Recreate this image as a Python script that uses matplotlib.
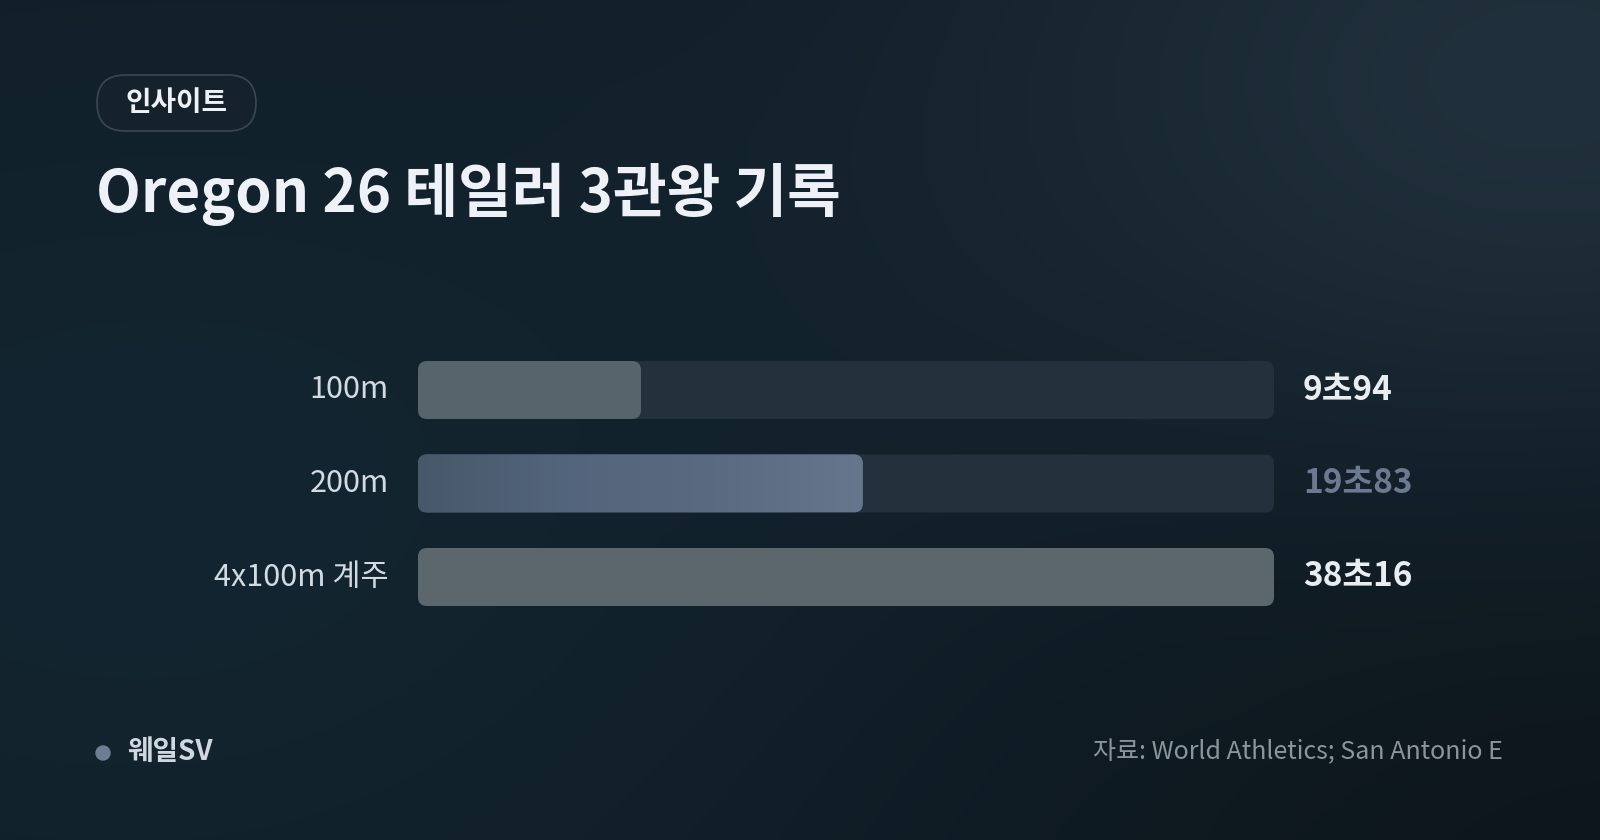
import numpy as np
import matplotlib
matplotlib.use('Agg')
import matplotlib.pyplot as plt
from matplotlib.patches import FancyBboxPatch, Circle
from matplotlib.colors import LinearSegmentedColormap

# --- 폰트 설정 ---
plt.rcParams['font.family'] = ['Noto Sans CJK KR', 'DejaVu Sans']

# --- 데이터 ---
events = ['100m', '200m', '4x100m 계주']
times = [9.94, 19.83, 38.16]
time_labels = ['9초94', '19초83', '38초16']
highlight = '200m'

badge_text = '인사이트'
title_text = 'Oregon 26 테일러 3관왕 기록'
brand_text = '웨일SV'
source_text = '자료: World Athletics; San Antonio E'

W, H = 1600, 840
DPI = 100

fig = plt.figure(figsize=(W / DPI, H / DPI), dpi=DPI)

# --- 배경 (픽셀 좌표계 axes) ---
bg = fig.add_axes([0, 0, 1, 1])
bg.set_xlim(0, W)
bg.set_ylim(H, 0)
bg.axis('off')

yy, xx = np.mgrid[0:H, 0:W]
xn = xx / W
yn = yy / H
base = np.array([0x10, 0x1d, 0x26]) / 255.0
img = np.ones((H, W, 3)) * base
# 왼쪽 중앙은 살짝 청록빛
teal = np.exp(-(((xn - 0.1) / 0.5) ** 2 + ((yn - 0.6) / 0.6) ** 2))
img += teal[..., None] * (np.array([0x03, 0x08, 0x0a]) / 255.0)
# 오른쪽 위 빛 번짐
glow = np.exp(-(((xn - 0.97) / 0.35) ** 2 + ((yn - 0.1) / 0.45) ** 2))
img += glow[..., None] * (np.array([0x10, 0x13, 0x16]) / 255.0)
# 오른쪽 아래는 어둡게
dark = np.exp(-(((xn - 1.0) / 0.45) ** 2 + ((yn - 1.0) / 0.5) ** 2))
img -= dark[..., None] * (np.array([0x03, 0x07, 0x0a]) / 255.0)
img = np.clip(img, 0, 1)
bg.imshow(img, extent=(0, W, H, 0), aspect='auto', zorder=0)

# 배지
pill = FancyBboxPatch((97, 75), 159, 56, boxstyle='round,pad=0,rounding_size=28',
                      fc='#15212b', ec='#3b4853', lw=1.2, zorder=2)
bg.add_patch(pill)
bg.text(176.5, 103, badge_text, color='#eef2f6', fontsize=20, fontweight='bold',
        ha='center', va='center', zorder=3)

# 제목
bg.text(96, 212, title_text, color='#eef2f8', fontsize=42, fontweight='bold',
        ha='left', va='baseline', zorder=3)

# 하단
bg.add_patch(Circle((103, 753), 7, color='#6d7d93', zorder=3))
bg.text(127, 752, brand_text, color='#d0d7de', fontsize=20, fontweight='bold',
        ha='left', va='center', zorder=3)
bg.text(1503, 752, source_text, color='#8b959e', fontsize=18,
        ha='right', va='center', zorder=3)

# --- 막대 차트 ---
ax_left, ax_right = 418, 1274
ax_top, ax_bottom = 340, 630
ax = fig.add_axes([ax_left / W, 1 - ax_bottom / H, (ax_right - ax_left) / W, (ax_bottom - ax_top) / H])
ax.set_facecolor('none')
ax.axis('off')

xmax = max(times)
row_px = 93.5
y_top = (ax_top - 390) / row_px
y_bot = (ax_bottom - 390) / row_px
ax.set_xlim(0, xmax)
ax.set_ylim(y_bot, y_top)

bar_h = 58 / row_px
x_per_px = xmax / (ax_right - ax_left)
y_per_px = 1 / row_px
r_px = 9
rounding = r_px * x_per_px
aspect = y_per_px / x_per_px

fill_colors = ['#56646b', '#52637a', '#5b676d']
grad_cmap = LinearSegmentedColormap.from_list('hl', ['#47586a', '#53657c', '#5a6a80', '#66768c'])

for i, (ev, t, lab) in enumerate(zip(events, times, time_labels)):
    track = FancyBboxPatch((0, i - bar_h / 2), xmax, bar_h,
                           boxstyle=f'round,pad=0,rounding_size={rounding}',
                           mutation_aspect=aspect, fc='#22313b', ec='none', zorder=1)
    ax.add_patch(track)
    is_hl = ev == highlight
    bar = FancyBboxPatch((0, i - bar_h / 2), t, bar_h,
                         boxstyle=f'round,pad=0,rounding_size={rounding}',
                         mutation_aspect=aspect, fc=fill_colors[i], ec='none', zorder=2)
    ax.add_patch(bar)
    if is_hl:
        grad = np.linspace(0, 1, 256).reshape(1, -1)
        im = ax.imshow(grad, cmap=grad_cmap, extent=(0, t, i + bar_h / 2, i - bar_h / 2),
                       aspect='auto', zorder=3)
        im.set_clip_path(bar)

    ax.annotate(ev, xy=(0, i), xytext=(-29 * 72 / DPI, 0), textcoords='offset points',
                ha='right', va='center', color='#d3dbe2', fontsize=22, fontweight='medium',
                zorder=4)
    ax.annotate(lab, xy=(xmax, i), xytext=(29 * 72 / DPI, 0), textcoords='offset points',
                ha='left', va='center', fontsize=24, fontweight='bold',
                color='#6b7a90' if is_hl else '#e8edf2', zorder=4)

ax.set_xlim(0, xmax)
ax.set_ylim(y_bot, y_top)

fig.savefig('out.png', dpi=DPI, facecolor='#0f1d26')
